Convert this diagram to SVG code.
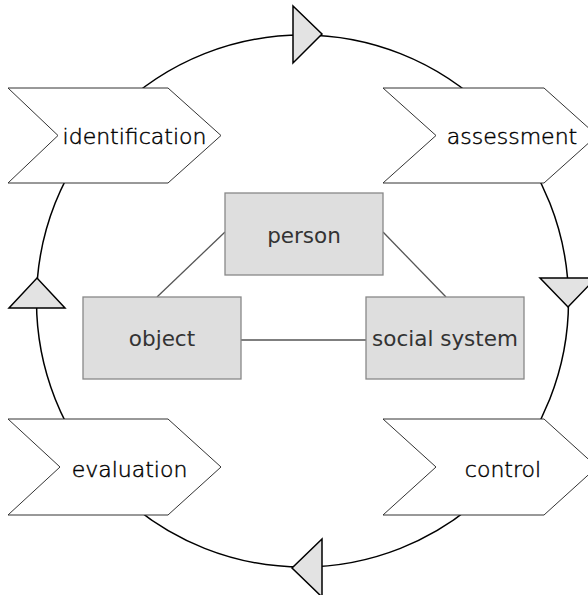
<svg xmlns="http://www.w3.org/2000/svg" width="588" height="595" viewBox="0 0 588 595">
<style>
.ring{fill:none;stroke:#000;stroke-width:1.5}
.head{fill:#e3e3e3;stroke:#000;stroke-width:1.5;stroke-linejoin:miter}
.link{stroke:#555;stroke-width:1.3;fill:none}
.chev{fill:#fff;stroke:#333;stroke-width:1}
.box{fill:#dedede;stroke:#888;stroke-width:1.3}
.t{font-family:"DejaVu Sans",sans-serif;font-weight:200;font-size:22px;fill:#000;stroke:#000;stroke-width:0.45;text-anchor:middle}
.tb{font-family:"DejaVu Sans",sans-serif;font-weight:normal;font-size:21.5px;fill:#333;text-anchor:middle}
</style>
<rect width="588" height="595" fill="#fff"/>
<g id="connectors">
<circle class="ring" cx="302.5" cy="301" r="266"/>
<polygon class="head" points="293,6 293,63 322,34"/>
<polygon class="head" points="540,278 596,278 568,307"/>
<polygon class="head" points="322,539 322,597 292,568"/>
<polygon class="head" points="9,308 65,308 37,278"/>
<line class="link" x1="225" y1="232" x2="157" y2="297"/>
<line class="link" x1="383" y1="232" x2="446" y2="297"/>
<line class="link" x1="241" y1="340" x2="366" y2="340"/>
</g>
<g id="identification">
<polygon class="chev" points="8,88 168,88 221,135.5 168,183 8,183 58,135.5"/>
<text class="t" x="134.5" y="144">identification</text>
</g>
<g id="assessment">
<polygon class="chev" points="383,88 544,88 597,135.5 544,183 383,183 436,135.5"/>
<text class="t" x="512" y="144">assessment</text>
</g>
<g id="evaluation">
<polygon class="chev" points="8,419 168,419 221,467 168,515 8,515 60,467"/>
<text class="t" x="129.5" y="477">evaluation</text>
</g>
<g id="control">
<polygon class="chev" points="383,419 544,419 597,467 544,515 383,515 436,467"/>
<text class="t" x="503" y="477">control</text>
</g>
<g id="person">
<rect class="box" x="225" y="193" width="158" height="82"/>
<text class="tb" x="304" y="243">person</text>
</g>
<g id="object">
<rect class="box" x="83" y="297" width="158" height="82"/>
<text class="tb" x="162" y="346">object</text>
</g>
<g id="social-system">
<rect class="box" x="366" y="297" width="158" height="82"/>
<text class="tb" x="445" y="346">social system</text>
</g>
</svg>
